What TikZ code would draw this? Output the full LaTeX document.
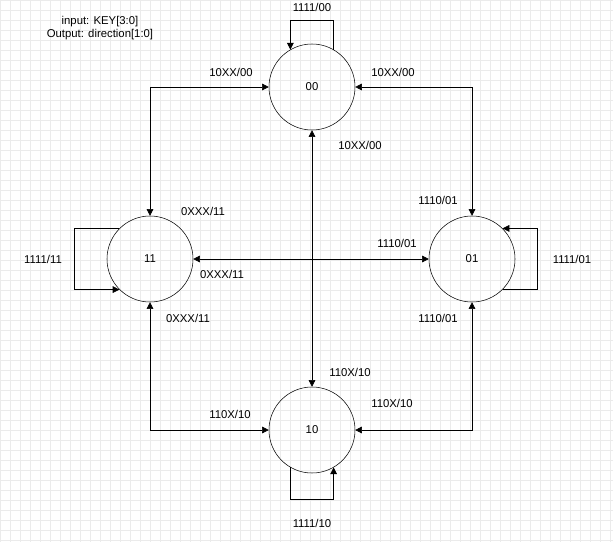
\documentclass[tikz,border=0pt]{standalone}
\usepackage{fontspec}
\setmainfont{Liberation Sans}
\usetikzlibrary{arrows.meta}

\begin{document}
\begin{tikzpicture}[x=0.75pt, y=-0.75pt, font=\fontsize{8.5}{10}\selectfont,
    state/.style={draw, circle, minimum size=64.5pt, inner sep=0pt},
    lbl/.style={inner sep=1pt},
    link/.style={{Triangle[length=5pt,width=5pt]}-{Triangle[length=5pt,width=5pt]}},
    loop/.style={-{Triangle[length=5pt,width=5pt]}}]
    % background grid
    \fill[white] (0,0) rectangle (613,542);
    \useasboundingbox (0,0) rectangle (613,542);
    \foreach \i in {0,10,...,610} \draw[black!8, line width=0.3pt] (\i,0) -- (\i,542);
    \foreach \j in {0,10,...,540} \draw[black!8, line width=0.3pt] (0,\j) -- (613,\j);

    % Define the states
    \node[state] (s00) at (312,87) {00};
    \node[state] (s11) at (150,259) {11};
    \node[state] (s01) at (472,259) {01};
    \node[state] (s10) at (312,430) {10};

    \node[align=center] (io) at (100,28) {input: KEY[3:0]\\Output: direction[1:0]};

    % Draw the transitions
    \draw[link] (s11) |- (s00);
    \draw[link] (s00) -| (s01);
    \draw[link] (s11) |- (s10);
    \draw[link] (s10) -| (s01);
    \draw[link] (s11) -- (s01);
    \draw[link] (s00) -- (s10);

    % Self loops
    \draw[loop] (s00.60) |- ++(0,-29) -| (s00.120);
    \draw[loop] (s10.240) |- ++(0,32) -| (s10.300);
    \draw[loop] (s11.135) -- ++(-45,0) |- (s11.225);
    \draw[loop] (s01.315) -- ++(35,0) |- (s01.45);

    % Labels
    \node[lbl] (l1) at (312,7) {1111/00};
    \node[lbl] (l2) at (231,72) {10XX/00};
    \node[lbl] (l3) at (393,72) {10XX/00};
    \node[lbl] (l4) at (360,145) {10XX/00};
    \node[lbl] (l5) at (203,211) {0XXX/11};
    \node[lbl] (l6) at (438,200) {1110/01};
    \node[lbl] (l7) at (43,259) {1111/11};
    \node[lbl] (l8) at (397,243) {1110/01};
    \node[lbl] (l9) at (222,274) {0XXX/11};
    \node[lbl] (l10) at (572,259) {1111/01};
    \node[lbl] (l11) at (188,318) {0XXX/11};
    \node[lbl] (l12) at (438,318) {1110/01};
    \node[lbl] (l13) at (350,372) {110X/10};
    \node[lbl] (l14) at (230,414) {110X/10};
    \node[lbl] (l15) at (392,403) {110X/10};
    \node[lbl] (l16) at (312,523) {1111/10};
\end{tikzpicture}
\end{document}
